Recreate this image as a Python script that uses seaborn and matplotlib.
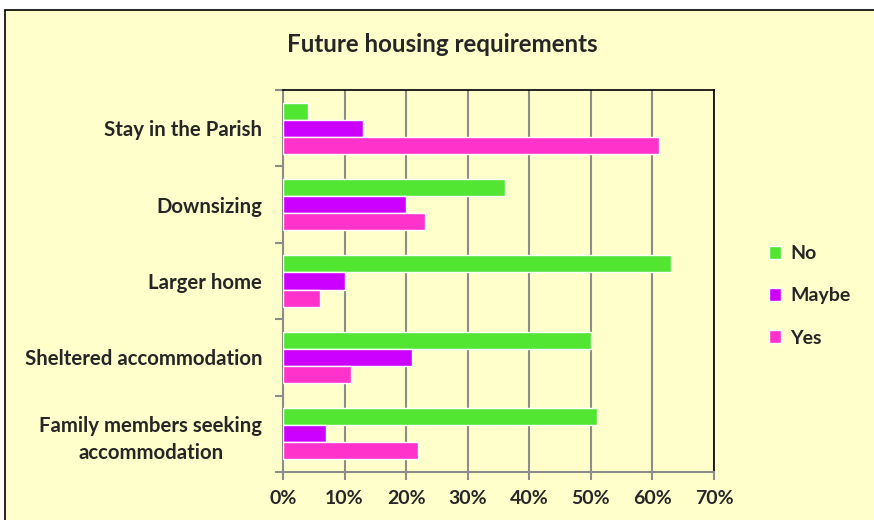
import pandas as pd
import matplotlib.pyplot as plt
import seaborn as sns
from matplotlib.patches import Rectangle
from matplotlib.ticker import PercentFormatter, MultipleLocator

# data (percent)
categories = ["Stay in the Parish", "Downsizing", "Larger home",
              "Sheltered accommodation", "Family members seeking\naccommodation"]
no_vals = [4, 36, 63, 50, 51]
maybe_vals = [13, 20, 10, 21, 7]
yes_vals = [61, 23, 6, 11, 22]
answers = ["No", "Maybe", "Yes"]
colors = ["#52E632", "#CC00FF", "#FF33CC"]

df = pd.DataFrame({
    "category": categories * 3,
    "answer": ["No"] * 5 + ["Maybe"] * 5 + ["Yes"] * 5,
    "value": no_vals + maybe_vals + yes_vals,
})

bg = "#FFFFCC"
sns.set_theme(style="white")
plt.rcParams["font.family"] = ["Lato", "DejaVu Sans"]
plt.rcParams["font.weight"] = "bold"

fig = plt.figure(figsize=(8.74, 5.2), dpi=100, facecolor="white")
fig.patches.append(Rectangle((5 / 874, -0.1), 1.1, 1 - 10 / 520 + 0.1,
                             transform=fig.transFigure, facecolor=bg,
                             edgecolor="black", linewidth=1.2, zorder=-10))
ax = fig.add_axes([283 / 874, 1 - 472 / 520, (714 - 283) / 874, (472 - 90) / 520])
ax.set_facecolor(bg)

sns.barplot(data=df, y="category", x="value", hue="answer", hue_order=answers,
            order=categories, palette=colors, orient="h", width=0.67,
            saturation=1, ax=ax, zorder=3)

ax.set_xlim(0, 70)
ax.xaxis.set_major_locator(MultipleLocator(10))
ax.xaxis.set_major_formatter(PercentFormatter(decimals=0))
ax.grid(axis="x", color="#8C8C8C", linewidth=1.5, zorder=0)
ax.set_axisbelow(True)
ax.set_xlabel("")
ax.set_ylabel("")
ax.set_ylim(4.5, -0.5)

# Excel style ticks between categories
ax.set_yticks([i - 0.5 for i in range(6)], minor=True)
ax.tick_params(axis="y", which="major", length=0, pad=15, labelsize=14.7)
ax.tick_params(axis="y", which="minor", length=6, width=1.5, color="#8C8C8C", direction="out", left=True)
ax.tick_params(axis="x", length=6, width=1.5, color="#8C8C8C", direction="out", bottom=True,
               labelsize=14, pad=7)
for lab in ax.get_yticklabels():
    lab.set_multialignment("center")
    lab.set_linespacing(1.45)
    lab.set_fontweight("bold")
for lab in ax.get_xticklabels():
    lab.set_fontweight("bold")

for side in ["left", "bottom"]:
    ax.spines[side].set_color("#8C8C8C")
    ax.spines[side].set_linewidth(1.5)
for side in ["top", "right"]:
    ax.spines[side].set_color("black")
    ax.spines[side].set_linewidth(1.2)

fig.text(442 / 874, 1 - 45 / 520, "Future housing requirements", ha="center", va="center",
         fontsize=17.4, fontweight="bold")

leg = ax.legend(loc="center left", bbox_to_anchor=(751 / 874, 1 - 296 / 520),
                bbox_transform=fig.transFigure, frameon=False, fontsize=14,
                handlelength=0.65, handleheight=0.65, labelspacing=1.3, handletextpad=0.45)
for t in leg.get_texts():
    t.set_fontweight("bold")

fig.savefig("out.png", dpi=100, facecolor="white")
